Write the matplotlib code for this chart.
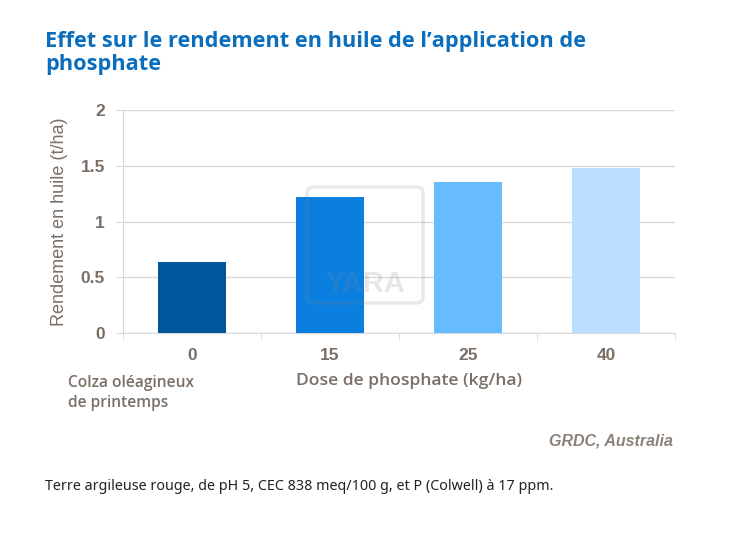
import matplotlib.pyplot as plt
from matplotlib.patches import FancyBboxPatch

# data
doses = ["0", "15", "25", "40"]
rendement = [0.64, 1.22, 1.35, 1.48]
couleurs = ["#00569a", "#0a7fe0", "#66bcff", "#b9defe"]
yticks = [0, 0.5, 1, 1.5, 2]
ytick_labels = ["0", "0.5", "1", "1.5", "2"]

gris = "#7a6f66"
grille = "#d9d9d9"

fig = plt.figure(figsize=(7.3, 5.4), dpi=100)
ax = fig.add_axes([123 / 730, 1 - 333 / 540, 552 / 730, 223 / 540])

x = list(range(len(doses)))
ax.bar(x, rendement, width=0.49, color=couleurs, zorder=3)

ax.set_xlim(-0.5, len(doses) - 0.5)
ax.set_ylim(0, 2)
ax.set_yticks(yticks)
ax.set_yticklabels(ytick_labels, fontfamily="Liberation Sans", fontweight="bold",
                   fontsize=12.5, color=gris)
ax.set_xticks(x)
ax.set_xticklabels(doses, fontfamily="Liberation Sans", fontweight="bold",
                   fontsize=12.5, color=gris)
ax.tick_params(axis="x", length=0, pad=11)
ax.tick_params(axis="y", length=5, color=grille, pad=8)
# separators between categories
ax.set_xticks([i - 0.5 for i in range(len(doses) + 1)], minor=True)
ax.tick_params(axis="x", which="minor", length=5, color=grille)

ax.grid(axis="y", color=grille, linewidth=1, zorder=0)
for s in ["top", "right"]:
    ax.spines[s].set_visible(False)
ax.spines["left"].set_color(grille)
ax.spines["bottom"].set_color(grille)

ax.set_ylabel("Rendement en huile (t/ha)", fontfamily="Liberation Sans",
              fontsize=13, color=gris, labelpad=9)

# faint watermark
wm = FancyBboxPatch((307 / 730, 1 - 303 / 540), 116 / 730, 116 / 540,
                    boxstyle="round,pad=0,rounding_size=0.01",
                    transform=fig.transFigure, facecolor="none",
                    edgecolor="#888888", alpha=0.18, linewidth=2.5, zorder=5)
fig.patches.append(wm)
fig.text(365 / 730, 1 - 284 / 540, "YARA", ha="center", va="center",
         fontfamily="Liberation Sans", fontweight="bold", fontsize=21,
         color="#888888", alpha=0.2)

fig.text(45 / 730, 1 - 53 / 540, "Effet sur le rendement en huile de l\u2019application de\nphosphate",
         ha="left", va="center", fontfamily="Open Sans", fontweight="bold",
         fontsize=15.7, color="#0a6ebd", linespacing=1.15)

fig.text(409 / 730, 1 - 381 / 540, "Dose de phosphate (kg/ha)", ha="center", va="center",
         fontfamily="Open Sans", fontweight="semibold", fontsize=12.6, color=gris)
fig.text(68 / 730, 1 - 393 / 540, "Colza oléagineux\nde printemps", ha="left", va="center",
         fontfamily="Open Sans", fontweight="semibold", fontsize=11.2, color=gris,
         linespacing=1.35)
fig.text(673 / 730, 1 - 441 / 540, "GRDC, Australia", ha="right", va="center",
         fontfamily="Liberation Sans", fontweight="bold", style="italic",
         fontsize=11.5, color="#8a8178")
fig.text(45 / 730, 1 - 487 / 540,
         "Terre argileuse rouge, de pH 5, CEC 838 meq/100 g, et P (Colwell) à 17 ppm.",
         ha="left", va="center", fontfamily="Noto Sans", fontsize=10.3, color="#222222")

fig.savefig("out.png", dpi=100)
